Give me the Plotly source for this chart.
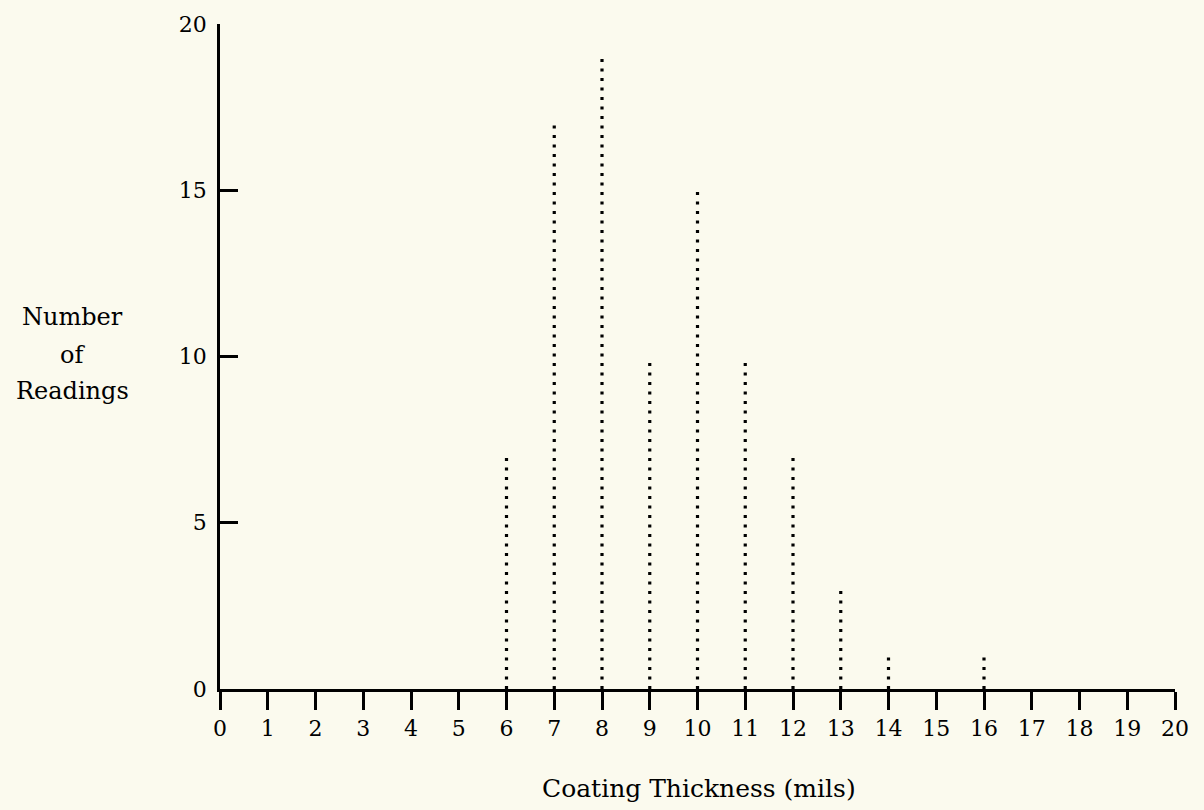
import plotly.graph_objects as go

thickness = [6, 7, 8, 9, 10, 11, 12, 13, 14, 16]
readings = [7, 17, 19, 10, 15, 10, 7, 3, 1, 1]
x_ticks = list(range(0, 21))
y_ticks = [0, 5, 10, 15, 20]
y_title_lines = ["Number", "of", "Readings"]
x_title = "Coating Thickness (mils)"

FONT = "DejaVu Serif"
BG = "#fbfaee"

fig = go.Figure()
for t, r in zip(thickness, readings):
    fig.add_trace(go.Scatter(
        x=[t, t], y=[0, r], mode="lines",
        line=dict(color="black", width=3.2, dash="3px,6.5px"),
        showlegend=False, hoverinfo="skip",
    ))

annotations = []
for txt, yp in zip(y_title_lines, [0.559, 0.502, 0.448]):
    annotations.append(dict(
        text=txt, xref="paper", yref="paper", x=-0.154, y=yp,
        showarrow=False, font=dict(family=FONT, size=24),
        xanchor="center", yanchor="middle"))
annotations.append(dict(
    text=x_title, xref="paper", yref="paper", x=0.5016, y=-0.15,
    showarrow=False, font=dict(family=FONT, size=25),
    xanchor="center", yanchor="middle"))

fig.update_layout(
    width=1204, height=810,
    paper_bgcolor=BG, plot_bgcolor=BG,
    margin=dict(l=220, r=29, t=22, b=121),
    font=dict(family=FONT, size=22, color="black"),
    xaxis=dict(
        range=[0, 20], tickvals=x_ticks, ticktext=[str(v) for v in x_ticks],
        showline=True, linecolor="black", linewidth=2.5,
        ticks="outside", ticklen=18, tickwidth=2.5, tickcolor="black",
        showgrid=False, zeroline=False, fixedrange=True,
    ),
    yaxis=dict(
        range=[0, 20], tickvals=y_ticks, ticktext=[str(v) for v in y_ticks],
        showline=True, linecolor="black", linewidth=2.5,
        ticks="inside", ticklen=18, tickwidth=2.5, tickcolor="black",
        ticklabelstandoff=6,
        showgrid=False, zeroline=False, fixedrange=True,
    ),
    annotations=annotations,
)

fig.write_html(
    "out.html",
    config={"displayModeBar": False},
    post_script="document.body.style.margin='0';document.body.style.background='%s';" % BG,
)
